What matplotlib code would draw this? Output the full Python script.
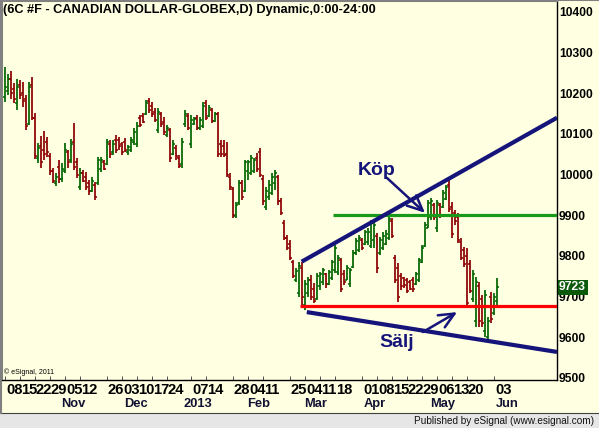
import matplotlib
matplotlib.use('Agg')
import matplotlib.pyplot as plt
import pandas as pd
from matplotlib.patches import Rectangle
from matplotlib.lines import Line2D

plt.rcParams['font.family'] = ['Liberation Sans', 'DejaVu Sans']

# ---------------- data (daily OHLC, 6C futures) ----------------
highs = [10264, 10247, 10254, 10225, 10235, 10232, 10227, 10195, 10227, 10240,
         10151, 10077, 10095, 10107, 10092, 10053, 10016, 10004, 10036, 10028,
         10077, 10060, 10087, 10127, 10040, 10016, 10011, 10006, 9986, 9994,
         9981, 10043, 10043, 10036, 10087, 10085, 10085, 10097, 10092, 10080,
         10090, 10072, 10092, 10114, 10129, 10146, 10151, 10183, 10188, 10178,
         10163, 10163, 10154, 10141, 10122, 10114, 10085, 10072, 10048, 10090,
         10159, 10151, 10146, 10141, 10146, 10141, 10178, 10183, 10171, 10163,
         10154, 10154, 10085, 10085, 10080, 10004, 9969, 9932, 9986, 9986,
         10036, 10036, 10048, 10040, 10053, 10065, 9999, 9969, 9986, 10004,
         10011, 9999, 9942, 9888, 9851, 9839, 9790, 9770, 9785, 9785,
         9740, 9748, 9753, 9733, 9758, 9760, 9770, 9758, 9765, 9790,
         9827, 9802, 9795, 9765, 9777, 9770, 9814, 9844, 9851, 9844,
         9863, 9868, 9888, 9883, 9856, 9846, 9858, 9863, 9895, 9893,
         9802, 9782, 9758, 9748, 9745, 9740, 9748, 9760, 9795, 9827,
         9883, 9937, 9942, 9930, 9937, 9930, 9962, 9974, 9986, 9932,
         9913, 9905, 9844, 9822, 9819, 9790, 9765, 9748, 9736, 9704,
         9716, 9649, 9711, 9709, 9745]
lows = [10178, 10195, 10186, 10176, 10159, 10186, 10166, 10109, 10122, 10134,
        10038, 10028, 10016, 10036, 10043, 9999, 9979, 9972, 9979, 9981,
        10004, 10016, 10028, 10011, 9991, 9962, 9981, 9962, 9950, 9957,
        9937, 9974, 10006, 10011, 10023, 10040, 10048, 10053, 10060, 10048,
        10055, 10048, 10055, 10072, 10068, 10117, 10127, 10146, 10151, 10141,
        10129, 10102, 10117, 10097, 10092, 10031, 10048, 10036, 10016, 10016,
        10117, 10109, 10065, 10122, 10109, 10109, 10114, 10134, 10141, 10127,
        10129, 10043, 10043, 10043, 9994, 9962, 9893, 9893, 9925, 9937,
        9957, 9986, 9999, 10004, 10006, 9994, 9925, 9913, 9937, 9950,
        9962, 9925, 9900, 9839, 9814, 9790, 9745, 9736, 9699, 9679,
        9667, 9699, 9691, 9684, 9691, 9716, 9728, 9721, 9728, 9740,
        9758, 9753, 9711, 9728, 9740, 9723, 9770, 9802, 9809, 9814,
        9827, 9827, 9819, 9819, 9758, 9802, 9814, 9827, 9839, 9844,
        9733, 9686, 9716, 9721, 9709, 9716, 9711, 9728, 9736, 9782,
        9822, 9868, 9888, 9888, 9858, 9893, 9918, 9937, 9908, 9844,
        9876, 9831, 9790, 9772, 9672, 9709, 9686, 9625, 9625, 9625,
        9600, 9593, 9635, 9654, 9674]
opens = [10190, 10205, 10235, 10210, 10175, 10220, 10200, 10185, 10125, 10220,
         10140, 10040, 10070, 10060, 10080, 10045, 10010, 9980, 10020, 9990,
         10010, 10055, 10035, 10080, 10030, 9970, 10005, 9995, 9980, 9960,
         9975, 9980, 10015, 10030, 10025, 10075, 10055, 10085, 10085, 10075,
         10080, 10055, 10060, 10080, 10075, 10140, 10145, 10150, 10180, 10170,
         10155, 10110, 10150, 10130, 10098, 10110, 10050, 10065, 10040, 10025,
         10125, 10145, 10075, 10125, 10140, 10115, 10120, 10175, 10145, 10160,
         10132, 10150, 10075, 10070, 10050, 9995, 9965, 9898, 9930, 9980,
         9960, 10010, 10005, 10010, 10040, 10055, 9990, 9920, 9945, 9955,
         9980, 9995, 9935, 9880, 9845, 9830, 9785, 9740, 9710, 9770,
         9680, 9710, 9740, 9720, 9695, 9725, 9735, 9755, 9732, 9745,
         9765, 9760, 9790, 9755, 9742, 9730, 9772, 9808, 9815, 9840,
         9830, 9835, 9825, 9840, 9850, 9808, 9820, 9830, 9845, 9885,
         9795, 9770, 9750, 9745, 9740, 9735, 9740, 9730, 9740, 9785,
         9825, 9870, 9895, 9925, 9870, 9925, 9920, 9940, 9975, 9920,
         9905, 9895, 9835, 9815, 9800, 9780, 9695, 9640, 9725, 9695,
         9615, 9600, 9700, 9660, 9690]
closes = [10215, 10235, 10200, 10185, 10215, 10195, 10180, 10120, 10215, 10140,
          10045, 10065, 10030, 10050, 10055, 10010, 9985, 9995, 9990, 10015,
          10060, 10030, 10075, 10020, 10000, 10005, 9985, 9970, 9960, 9985,
          9945, 10035, 10035, 10015, 10080, 10050, 10075, 10060, 10070, 10055,
          10060, 10068, 10085, 10105, 10120, 10122, 10130, 10175, 10160, 10150,
          10135, 10155, 10125, 10105, 10115, 10040, 10075, 10045, 10022, 10080,
          10150, 10115, 10135, 10138, 10115, 10135, 10170, 10140, 10165, 10132,
          10150, 10050, 10050, 10048, 10000, 9970, 9900, 9925, 9980, 9945,
          10030, 10030, 10040, 10035, 10015, 10000, 9935, 9960, 9975, 9995,
          10005, 9935, 9905, 9845, 9820, 9795, 9750, 9762, 9775, 9700,
          9730, 9740, 9700, 9690, 9750, 9755, 9765, 9730, 9760, 9785,
          9820, 9795, 9720, 9735, 9770, 9765, 9808, 9838, 9845, 9820,
          9858, 9860, 9880, 9875, 9770, 9840, 9850, 9855, 9890, 9850,
          9740, 9700, 9725, 9728, 9715, 9720, 9718, 9755, 9790, 9820,
          9875, 9930, 9935, 9895, 9930, 9900, 9955, 9970, 9915, 9855,
          9885, 9840, 9795, 9780, 9685, 9715, 9755, 9735, 9640, 9635,
          9705, 9640, 9645, 9700, 9723]

holidays = ['2012-11-22', '2012-12-25', '2013-01-01', '2013-01-21',
            '2013-02-18', '2013-03-29', '2013-05-27']
day_ticks = ['2012-10-08', '2012-10-15', '2012-10-22', '2012-10-29', '2012-11-05',
             '2012-11-12', '2012-11-26', '2012-12-03', '2012-12-10', '2012-12-17',
             '2012-12-24', '2013-01-07', '2013-01-14', '2013-01-28', '2013-02-04',
             '2013-02-11', '2013-02-25', '2013-03-04', '2013-03-11', '2013-03-18',
             '2013-04-01', '2013-04-08', '2013-04-15', '2013-04-22', '2013-04-29',
             '2013-05-06', '2013-05-13', '2013-05-20', '2013-06-03']
month_dates = ['2012-11-01', '2012-12-03', '2013-01-02', '2013-02-01',
               '2013-03-01', '2013-04-01', '2013-05-01', '2013-06-03']
month_labels = ['Nov', 'Dec', '2013', 'Feb', 'Mar', 'Apr', 'May', 'Jun']
price_ticks = [9500, 9600, 9700, 9800, 9900, 10000, 10100, 10200, 10300, 10400]
last_price = 9723

# drawn annotations (bar index, price)
upper_line = [(98.9, 9786), (184.0, 10140)]
lower_line = [(100.6, 9662), (184.0, 9564)]
buy_level = (109.3, 9900)
sell_level = (98.3, 9677)
kop_text = (124.0, 10011)
kop_arrow = [(127.3, 9992), (140.0, 9906)]
salj_text = (130.7, 9588)
salj_arrow = [(139.3, 9613), (150.7, 9662)]

# ---------------- styling ----------------
W, H = 599, 428
BG = '#FFFFE1'
NAVY = '#14147A'
GREEN_BAR = '#006400'
RED_BAR = '#8B0000'

dates = pd.bdate_range('2012-10-08', '2013-06-04')
dates = dates[~dates.isin(pd.to_datetime(holidays))]
n = min(len(dates), len(highs))
idx = list(range(n))


def fx(px):
    return px / W


def fy(py):
    return 1 - py / H


fig = plt.figure(figsize=(W / 100, H / 100), dpi=100, facecolor=BG)

# status bar at bottom
fig.patches.append(Rectangle((0, 0), 1, fy(413), transform=fig.transFigure,
                             facecolor='#E6E6E6', edgecolor='none', zorder=0))
fig.lines.append(Line2D([0, 1], [fy(412.5), fy(412.5)], transform=fig.transFigure,
                        color='#404040', lw=0.8))
fig.lines.append(Line2D([fx(0.8), fx(0.8)], [fy(412.5), 1], transform=fig.transFigure,
                        color='#808080', lw=1.5))
fig.lines.append(Line2D([0, 1], [fy(0.3), fy(0.3)], transform=fig.transFigure,
                        color='#808080', lw=0.8))

ax = fig.add_axes([fx(2), 1 - 380 / H, (557 - 2) / W, 379 / H])
ax.set_facecolor(BG)
ax.set_xlim(-1, 184)
ax.set_ylim(9495, 10427)

for i in idx:
    c = GREEN_BAR if closes[i] >= opens[i] else RED_BAR
    ax.vlines(i, lows[i], highs[i], color=c, lw=1.25, zorder=3)
    ax.hlines(opens[i], i - 0.6, i, color=c, lw=1.1, zorder=3)
    ax.hlines(closes[i], i, i + 0.6, color=c, lw=1.1, zorder=3)

# horizontal levels
ax.plot([buy_level[0], 184], [buy_level[1]] * 2, color='#189A18', lw=2.3,
        solid_capstyle='butt', zorder=4)
ax.plot([sell_level[0], 184], [sell_level[1]] * 2, color='#FF0000', lw=2.3,
        solid_capstyle='butt', zorder=4)
# trend lines
ax.plot([p[0] for p in upper_line], [p[1] for p in upper_line], color=NAVY,
        lw=3.0, solid_capstyle='butt', zorder=5)
ax.plot([p[0] for p in lower_line], [p[1] for p in lower_line], color=NAVY,
        lw=3.0, solid_capstyle='butt', zorder=5)

# annotations
ax.text(*kop_text, 'Köp', color=NAVY, fontsize=14, fontweight='bold',
        ha='center', va='center', zorder=6)
ax.text(*salj_text, 'Sälj', color=NAVY, fontsize=14, fontweight='bold',
        ha='center', va='center', zorder=6)
ax.annotate('', xy=kop_arrow[1], xytext=kop_arrow[0],
            arrowprops=dict(arrowstyle='->,head_length=1.1,head_width=0.5',
                            color=NAVY, lw=1.8, shrinkA=0, shrinkB=0), zorder=6)
ax.annotate('', xy=salj_arrow[1], xytext=salj_arrow[0],
            arrowprops=dict(arrowstyle='->,head_length=1.1,head_width=0.5',
                            color=NAVY, lw=1.8, shrinkA=0, shrinkB=0), zorder=6)

# axes frame
for s in ['left', 'top']:
    ax.spines[s].set_color('#808080')
    ax.spines[s].set_linewidth(0.8)
ax.spines['right'].set_color('black')
ax.spines['bottom'].set_color('black')
ax.spines['right'].set_linewidth(1.0)
ax.spines['bottom'].set_linewidth(1.0)

# y axis on the right
ax.yaxis.tick_right()
ax.set_yticks(price_ticks)
ax.set_yticklabels([str(p) for p in price_ticks], fontsize=8.7, fontweight='bold')
ax.tick_params(axis='y', length=0, pad=1.5)

# last price marker
ax.annotate(str(last_price), xy=(1.0, last_price), xycoords=('axes fraction', 'data'),
            xytext=(1.5, 0), textcoords='offset points', ha='left', va='center',
            fontsize=8.7, fontweight='bold', color='white', zorder=10,
            annotation_clip=False,
            bbox=dict(boxstyle='square,pad=0.12', facecolor='#0B5A0B', edgecolor='none'))

# x axis: custom labels
week_pos = [dates.get_loc(pd.Timestamp(d)) for d in day_ticks]
ax.set_xticks(week_pos)
ax.set_xticklabels([])
ax.tick_params(axis='x', direction='in', length=3, width=0.6, color='#333333')
xt = ax.get_xaxis_transform()
for d, p in zip(day_ticks, week_pos):
    ax.text(p + 0.3, -0.0264, pd.Timestamp(d).strftime('%d'), transform=xt,
            ha='left', va='center', fontsize=10.6, fontweight='bold', clip_on=False)
for d, lab in zip(month_dates, month_labels):
    p = dates.get_loc(pd.Timestamp(d))
    ax.text(p + 0.6, -0.0646, lab, transform=xt, ha='left', va='center',
            fontsize=9.3, fontweight='bold', color='#111133', clip_on=False)

# texts
fig.text(fx(3), fy(9.5), '(6C #F - CANADIAN DOLLAR-GLOBEX,D) Dynamic,0:00-24:00',
         ha='left', va='center', fontsize=9.2, fontweight='bold')
ax.text(fx(2) * 0 + 2 / 555, (380 - 372) / 379, '\u00a9 eSignal, 2011',
        transform=ax.transAxes, ha='left', va='center', fontsize=5)
fig.text(fx(594), fy(421), 'Published by eSignal (www.esignal.com)',
         ha='right', va='center', fontsize=7.2, color='#111111')

fig.savefig('out.png', dpi=100, facecolor=BG)
